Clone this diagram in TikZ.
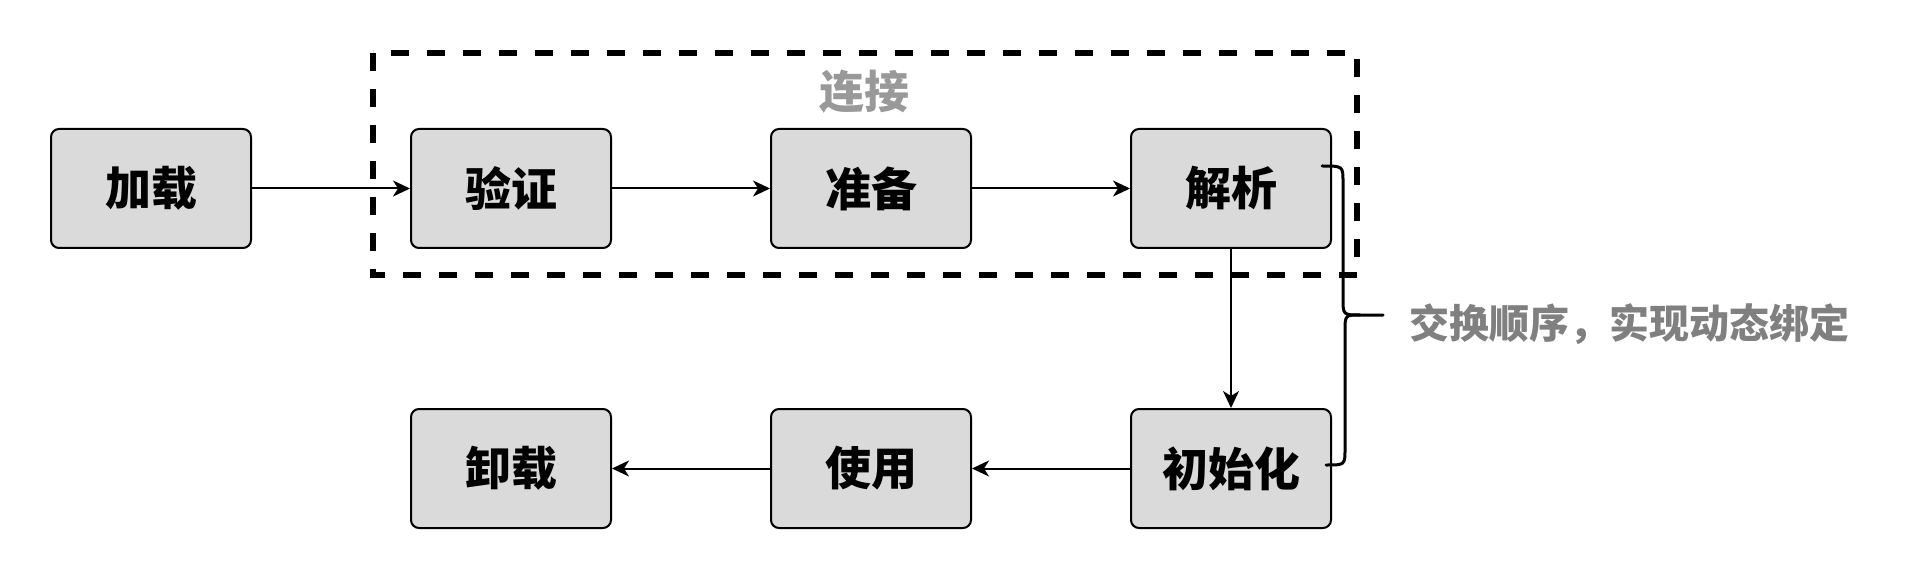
\documentclass[tikz,border=0pt]{standalone}
\usepackage{fontspec}
\setmainfont{Noto Sans CJK SC}
\usetikzlibrary{arrows.meta}
\definecolor{boxfill}{HTML}{DADADA}
\definecolor{labelgray}{HTML}{808080}
\definecolor{titlegray}{HTML}{999999}
\begin{document}
\begin{tikzpicture}[x=1pt,y=-1pt,
  stagebox/.style={draw=black,line width=2pt,fill=boxfill,rounded corners=8pt,
    minimum width=200pt,minimum height=119pt,inner sep=0pt,
    font=\fontsize{46}{50}\selectfont\bfseries},
  flow/.style={line width=2pt,-{Stealth[length=17pt,width=16pt,inset=5pt]}},
  groupframe/.style={draw=black,line width=5.3pt,dash pattern=on 18pt off 18pt},
  bracestyle/.style={draw=black,line width=3pt,line cap=round}]
\useasboundingbox (0,0) rectangle (1912,580);
% dashed frame
\draw[groupframe] (373,53) rectangle (1357,275);
\node[text=titlegray,font=\fontsize{45}{50}\selectfont\bfseries] (title) at (864,92) {连接};
% stages
\node[stagebox] (load)  at (151,188.5) {加载};
\node[stagebox] (verify) at (511,188.5) {验证};
\node[stagebox] (prep)  at (871,188.5) {准备};
\node[stagebox] (parse) at (1231,188.5) {解析};
\node[stagebox] (init)  at (1231,468.5) {初始化};
\node[stagebox] (use)   at (871,468.5) {使用};
\node[stagebox] (unload) at (511,468.5) {卸载};
% connectors
\draw[flow] (load) -- (verify);
\draw[flow] (verify) -- (prep);
\draw[flow] (prep) -- (parse);
\draw[flow,line width=1.6pt] (parse) -- (init);
\draw[flow] (init) -- (use);
\draw[flow] (use) -- (unload);
% brace
\coordinate (btop) at (1322,166);
\coordinate (btip) at (1383,315);
\coordinate (bbot) at (1326,465);
\draw[bracestyle] (btop) .. controls (1343,166) .. (1343,182) -- (1343,298)
  .. controls (1343,315) .. (1360,315) -- (btip);
\draw[bracestyle] (1360,315) .. controls (1345,315) .. (1345,332) -- (1345,449)
  .. controls (1345,465) .. (bbot);
\node[text=labelgray,font=\fontsize{40}{44}\selectfont\bfseries,anchor=west,inner sep=0pt] (note) at (1409,324) {交换顺序，实现动态绑定};
\end{tikzpicture}
\end{document}
